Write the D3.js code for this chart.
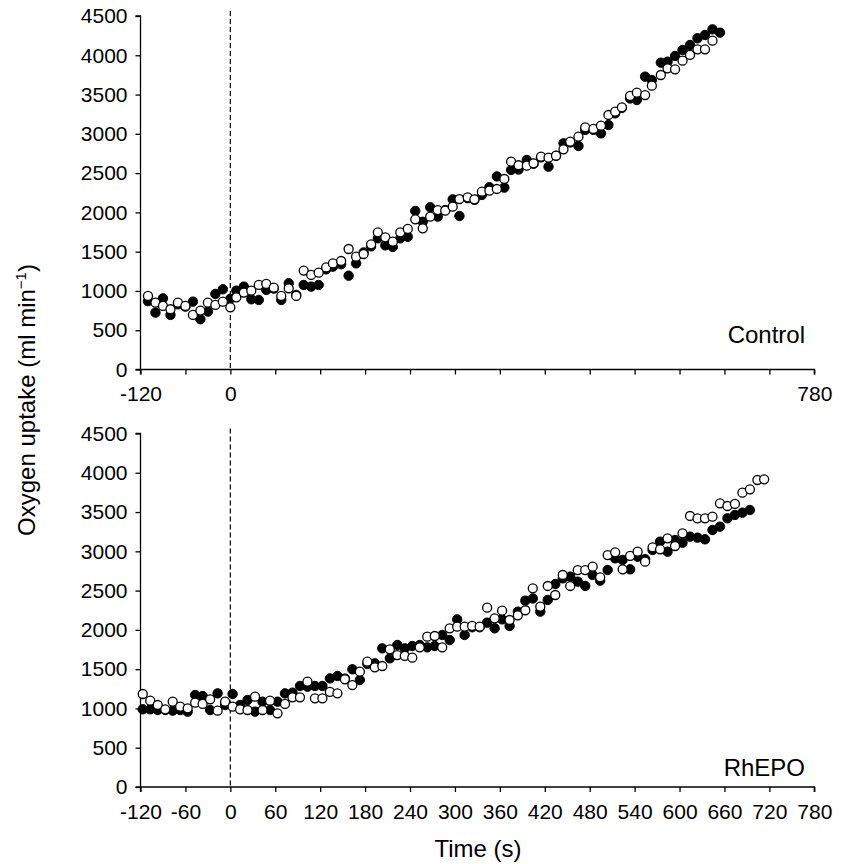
<!DOCTYPE html>
<html><head><meta charset="utf-8">
<script src="https://cdn.jsdelivr.net/npm/d3@7"></script>
<style>
body{margin:0;background:#fff;}
svg{display:block;font-family:"Liberation Sans",Arial,sans-serif;}
</style></head>
<body><svg id="c" width="850" height="864"></svg>
<script>
// ---- data ----
const xTicks = [-120,-60,0,60,120,180,240,300,360,420,480,540,600,660,720,780];
const topXLabels = [-120,0,780];
const yTicks = [0,500,1000,1500,2000,2500,3000,3500,4000,4500];

const ctrlTime = [-110,-100,-90,-80,-70,-60,-50,-40,-30,-20,-10,0,
 8,18,28,38,48,58,68,78,88,98,108,118,128,
 137,148,158,168,178,188,
 197,207,217,227,237,247,257,267,277,287,297,
 306,317,326,336,346,356,366,375,385,
 396,405,415,425,435,445,454,465,474,485,495,
 505,514,523,534,543,554,563,575,584,594,
 604,614,624,634,644,654];
const ctrlOpen = [936,851,809,767,851,809,695,750,851,822,864,792,
 919,979,1004,1076,1089,1042,936,1034,936,1259,1204,1233,1300,
 1350,1381,1534,1436,1470,1593,
 1746,1683,1627,1746,1789,1912,1797,1946,2030,2022,2073,
 2170,2192,2166,2264,2277,2298,2425,2646,2600,
 2595,2625,2709,2697,2722,2803,2900,2964,3083,3062,3104,
 3240,3282,3337,3482,3524,3494,3613,3749,3834,3821,
 3931,4004,4076,4076,4186];
const ctrlFilled = [870,724,906,695,830,800,864,640,737,962,1021,900,
 1004,1055,894,885,1013,1030,885,1098,950,1076,1055,1076,1275,
 1309,1340,1194,1351,1490,1568,
 1670,1580,1560,1670,1690,2018,1880,2065,1946,2030,2166,
 1954,2180,2160,2222,2320,2458,2315,2540,2545,
 2667,2620,2700,2582,2720,2879,2890,2845,3050,3050,3006,
 3112,3260,3330,3450,3431,3728,3685,3906,3919,3991,
 4067,4131,4216,4258,4330,4288];

const epoTime = [-117,-107,-97,-87,-77,-67,-57,-47,-37,-27,-17,-7,
 3,13,23,33,43,53,63,73,83,93,103,113,123,133,
 143,153,163,173,183,193,203,213,223,233,
 243,253,263,273,283,293,303,313,323,333,
 343,353,363,373,384,394,404,414,424,434,
 444,454,464,474,484,494,504,514,524,534,
 544,554,564,574,584,594,604,614,624,634,
 644,654,664,674,684,694,704,713];
const epoOpen = [1184,1099,1044,989,1086,1023,1001,1074,1057,1116,972,1086,
 1023,989,980,1150,980,1099,938,1057,1141,1141,1341,1129,1129,1210,
 1192,1371,1298,1468,1595,1523,1540,1753,1680,1668,
 1646,1778,1914,1922,1778,2020,2041,2041,2050,2041,
 2283,2147,2245,2126,2185,2250,2529,2296,2559,2444,
 2699,2559,2762,2762,2805,2669,2953,2987,2771,2941,
 2996,2868,3051,3025,3166,3068,3229,3450,3420,3420,
 3441,3611,3577,3603,3747,3789,3908,3917];
const epoFilled = [989,989,980,980,972,980,959,1171,1158,980,1192,1044,
 1184,1044,1107,959,1086,980,1086,1192,1201,1286,1277,1286,1286,1383,
 1413,1380,1498,1362,1566,1574,1765,1638,1808,1765,
 1795,1808,1778,1795,1935,1871,2134,1935,2033,2033,
 2092,2020,2134,2050,2232,2372,2400,2232,2381,2584,
 2656,2678,2614,2559,2699,2627,2762,2911,2890,2771,
 2932,2900,3017,3123,2996,3144,3110,3187,3174,3153,
 3272,3314,3420,3463,3492,3526];

// ---- layout ----
const svg = d3.select("#c");
const FONT = 21;
const x = d3.scaleLinear().domain([-120,780]).range([140.5,814.3]);
const panels = [
  {y0:369.5, y1:16, time:ctrlTime, filled:ctrlFilled, open:ctrlOpen, name:"Control", labels:topXLabels, nameY:343},
  {y0:787, y1:433.5, time:epoTime, filled:epoFilled, open:epoOpen, name:"RhEPO", labels:xTicks, nameY:776}
];

panels.forEach(p => {
  const y = d3.scaleLinear().domain([0,4500]).range([p.y0,p.y1]);
  const g = svg.append("g");

  // dashed zero line
  g.append("line").attr("x1",x(0)).attr("x2",x(0)).attr("y1",p.y1-5).attr("y2",p.y0)
    .attr("stroke","#000").attr("stroke-width",1.2).attr("stroke-dasharray","5,3");

  // y axis
  const ya = g.append("g").attr("transform",`translate(${x(-120)},0)`)
    .call(d3.axisLeft(y).tickValues(yTicks).tickSize(5).tickPadding(8).tickFormat(d3.format("d")));
  // x axis
  const xa = g.append("g").attr("transform",`translate(0,${p.y0})`)
    .call(d3.axisBottom(x).tickValues(xTicks).tickSize(5).tickPadding(12)
      .tickFormat(d => p.labels.includes(d) ? String(d) : ""));
  [ya,xa].forEach(a => {
    a.select(".domain").attr("stroke","#000").attr("stroke-width",1.3);
    a.selectAll(".tick line").attr("stroke","#000").attr("stroke-width",1.3);
    a.selectAll("text").attr("font-size",FONT).attr("fill","#000")
      .attr("font-family",'"Liberation Sans",Arial,sans-serif');
  });
  ya.select(".domain").attr("d",`M-5,${p.y1}H0V${p.y0}H-5`);
  xa.select(".domain").attr("d",`M${x(-120)},5V0H${x(780)}V5`);

  // filled markers
  g.append("g").selectAll("circle").data(p.filled).join("circle")
    .attr("cx",(d,i)=>x(p.time[i])).attr("cy",d=>y(d)).attr("r",4.7)
    .attr("fill","#000").attr("stroke","#000").attr("stroke-width",1);
  // open markers on top
  g.append("g").selectAll("circle").data(p.open).join("circle")
    .attr("cx",(d,i)=>x(p.time[i])).attr("cy",d=>y(d)).attr("r",4.5)
    .attr("fill","#fff").attr("stroke","#000").attr("stroke-width",1.3);

  g.append("text").attr("x",805).attr("y",p.nameY).attr("text-anchor","end")
    .attr("font-size",24).text(p.name);
});

// axis titles
svg.append("text").attr("x",478).attr("y",857).attr("text-anchor","middle")
  .attr("font-size",24).text("Time (s)");
const yl = svg.append("text").attr("transform","translate(35,400) rotate(-90)")
  .attr("text-anchor","middle").attr("font-size",24);
yl.append("tspan").text("Oxygen uptake (ml min");
yl.append("tspan").attr("font-size",15).attr("dy",-9).text("\u22121");
yl.append("tspan").attr("dy",9).text(")");
</script></body></html>
